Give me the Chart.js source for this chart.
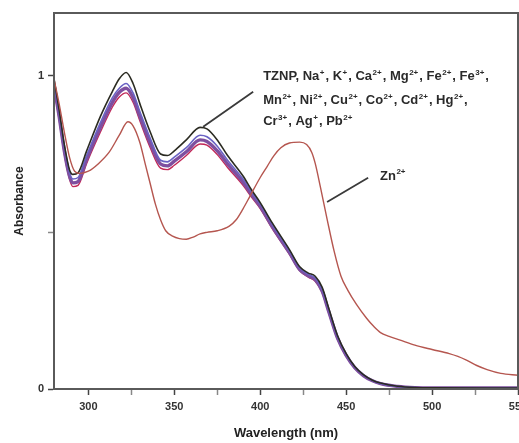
<!DOCTYPE html>
<html>
<head>
<meta charset="utf-8">
<script src="https://cdn.jsdelivr.net/npm/chart.js@4.4.1/dist/chart.umd.min.js"></script>
<style>
  html, body { margin: 0; padding: 0; background: #ffffff; }
  #wrap { width: 519px; height: 443px; }
</style>
</head>
<body>
<div id="wrap"><canvas id="c" width="519" height="443"></canvas></div>
<script>
// ---- data ----
const xTicks = [300, 325, 350, 375, 400, 425, 450, 475, 500, 525, 550];
const xLabels = [300, 350, 400, 450, 500, 550];
const yTicks = [0, 0.5, 1];
const yLabels = [0, 1];

const mainWl = [280,283,286,289,291,294,299,307,314,318,322,326,330,336,342,346,350,357,365,369,375,381,390,395,400,407,417,423,428,432,436,440,445,450,455,460,465,470,480,490,500,550];
const tznp    = [0.99,0.89,0.78,0.70,0.685,0.69,0.76,0.87,0.95,0.99,1.01,0.975,0.91,0.82,0.75,0.745,0.76,0.795,0.835,0.83,0.795,0.745,0.68,0.635,0.595,0.53,0.445,0.39,0.37,0.36,0.325,0.255,0.17,0.113,0.072,0.046,0.029,0.019,0.009,0.005,0.004,0.003];
const violet  = [0.98,0.88,0.77,0.69,0.67,0.675,0.745,0.85,0.93,0.96,0.975,0.945,0.885,0.80,0.73,0.725,0.74,0.77,0.81,0.805,0.775,0.73,0.67,0.628,0.59,0.525,0.44,0.386,0.366,0.354,0.318,0.25,0.166,0.11,0.07,0.045,0.028,0.018,0.008,0.005,0.004,0.003];
const purple  = [0.97,0.87,0.76,0.68,0.658,0.662,0.733,0.835,0.915,0.947,0.96,0.93,0.87,0.785,0.718,0.712,0.727,0.757,0.795,0.79,0.76,0.718,0.66,0.62,0.583,0.518,0.435,0.381,0.361,0.349,0.313,0.245,0.162,0.107,0.068,0.043,0.027,0.017,0.008,0.004,0.003,0.003];
const crimson = [0.96,0.86,0.75,0.67,0.646,0.65,0.72,0.82,0.90,0.932,0.945,0.915,0.855,0.77,0.705,0.70,0.714,0.745,0.782,0.778,0.748,0.707,0.65,0.612,0.576,0.512,0.43,0.377,0.357,0.344,0.308,0.24,0.158,0.104,0.066,0.042,0.026,0.016,0.008,0.005,0.004,0.004];

const znWl = [280,283,286,289,292,295,300,306,312,318,323,326,330,333,336,339,342,345,349,353,357,361,365,369,375,382,386,390,394,400,404,408,412,417,423,427,430,432,435,439,443,447,451,456,462,466,470,475,481,490,500,510,515,520,526,532,540,550];
const zn = [0.99,0.91,0.82,0.74,0.695,0.688,0.695,0.72,0.755,0.81,0.853,0.84,0.786,0.72,0.655,0.59,0.54,0.505,0.488,0.48,0.478,0.485,0.495,0.50,0.505,0.52,0.54,0.575,0.615,0.675,0.71,0.745,0.77,0.785,0.788,0.78,0.755,0.72,0.645,0.54,0.44,0.36,0.315,0.27,0.225,0.2,0.18,0.168,0.157,0.14,0.126,0.113,0.104,0.092,0.075,0.062,0.05,0.044];

const annotationLines = [
  [["TZNP, Na","+"],[", K","+"],[", Ca","2+"],[", Mg","2+"],[", Fe","2+"],[", Fe","3+"],[",",""]],
  [["Mn","2+"],[", Ni","2+"],[", Cu","2+"],[", Co","2+"],[", Cd","2+"],[", Hg","2+"],[",",""]],
  [["Cr","3+"],[", Ag","+"],[", Pb","2+"]]
];
const znLabel = [["Zn","2+"]];

function pts(xs, ys) { return xs.map((x, i) => ({ x: x, y: ys[i] })); }

function ds(label, xs, ys, color, width) {
  return {
    label: label, data: pts(xs, ys), borderColor: color, borderWidth: width,
    pointRadius: 0, fill: false, tension: 0.4, cubicInterpolationMode: 'monotone'
  };
}

function drawSegs(ctx, segs, x, y, baseFont, supFont) {
  let cx = x;
  segs.forEach(([base, sup]) => {
    ctx.font = baseFont;
    ctx.fillText(base, cx, y);
    cx += ctx.measureText(base).width;
    if (sup) {
      ctx.font = supFont;
      ctx.fillText(sup, cx + 0.5, y - 5.5);
      cx += ctx.measureText(sup).width + 1.5;
    }
  });
}

const decor = {
  id: 'decor',
  afterDraw(chart) {
    const ctx = chart.ctx, a = chart.chartArea;
    const xs = chart.scales.x, ys = chart.scales.y;
    ctx.save();
    // frame
    ctx.strokeStyle = '#5a5a5a';
    ctx.lineWidth = 2;
    ctx.strokeRect(a.left, a.top, a.right - a.left, a.bottom - a.top);
    // pointer lines
    ctx.strokeStyle = '#3a3a3a';
    ctx.lineWidth = 1.8;
    ctx.beginPath();
    ctx.moveTo(xs.getPixelForValue(366.8), ys.getPixelForValue(0.837));
    ctx.lineTo(xs.getPixelForValue(395.9), ys.getPixelForValue(0.949));
    ctx.moveTo(xs.getPixelForValue(438.9), ys.getPixelForValue(0.597));
    ctx.lineTo(xs.getPixelForValue(462.8), ys.getPixelForValue(0.674));
    ctx.stroke();
    // annotation text
    ctx.fillStyle = '#2a2a2a';
    ctx.textBaseline = 'alphabetic';
    ctx.textAlign = 'left';
    const baseFont = 'bold 13px "Liberation Sans", Arial, sans-serif';
    const supFont = 'bold 8px "Liberation Sans", Arial, sans-serif';
    const ax = xs.getPixelForValue(401.7);
    const baseYs = [0.985, 0.909, 0.842];
    annotationLines.forEach((segs, i) => {
      drawSegs(ctx, segs, ax, ys.getPixelForValue(baseYs[i]), baseFont, supFont);
    });
    drawSegs(ctx, znLabel, xs.getPixelForValue(469.7), ys.getPixelForValue(0.668), baseFont, supFont);
    ctx.restore();
  }
};

const tickFont = { family: '"Liberation Sans", Arial, sans-serif', size: 11, weight: 'bold' };

new Chart(document.getElementById('c'), {
  type: 'line',
  data: {
    datasets: [
      ds('Zn2+', znWl, zn, '#b5564f', 1.4),
      ds('TZNP', mainWl, tznp, '#2b2b22', 1.6),
      ds('violet', mainWl, violet, '#6a62c4', 1.6),
      ds('purple', mainWl, purple, '#7e4f9f', 3.4),
      ds('crimson', mainWl, crimson, '#c22858', 1.4)
    ]
  },
  options: {
    responsive: false,
    animation: false,
    devicePixelRatio: 1,
    layout: { padding: { top: 13, right: 1, left: 0, bottom: 0 } },
    plugins: { legend: { display: false }, tooltip: { enabled: false } },
    scales: {
      x: {
        type: 'linear', min: 280, max: 550,
        afterBuildTicks: s => { s.ticks = xTicks.map(v => ({ value: v })); },
        afterFit: s => { s.height = 54; s.paddingRight = 0; s.paddingLeft = 0; },
        grid: {
          drawOnChartArea: false, drawTicks: true, tickLength: 6,
          tickWidth: 1.5,
          tickColor: c => (c.tick && xLabels.includes(c.tick.value)) ? '#444' : '#888'
        },
        border: { display: true, color: '#5a5a5a', width: 2 },
        ticks: {
          autoSkip: false, maxRotation: 0, padding: 5, color: '#333', font: tickFont,
          callback: v => xLabels.includes(v) ? String(v) : ''
        },
        title: {
          display: true, text: 'Wavelength (nm)', color: '#222',
          font: { family: '"Liberation Sans", Arial, sans-serif', size: 13, weight: 'bold' },
          padding: { top: 0, bottom: 2 }
        }
      },
      y: {
        type: 'linear', min: 0, max: 1.2,
        afterBuildTicks: s => { s.ticks = yTicks.map(v => ({ value: v })); },
        afterFit: s => { s.width = 54; s.paddingTop = 0; s.paddingBottom = 0; },
        grid: {
          drawOnChartArea: false, drawTicks: true, tickLength: 6,
          tickWidth: 1.5,
          tickColor: c => (c.tick && yLabels.includes(c.tick.value)) ? '#444' : '#888'
        },
        border: { display: true, color: '#5a5a5a', width: 2 },
        ticks: {
          autoSkip: false, padding: 4, color: '#333', font: tickFont,
          callback: v => yLabels.includes(v) ? String(v) : ''
        },
        title: {
          display: true, text: 'Absorbance', color: '#222',
          font: { family: '"Liberation Sans", Arial, sans-serif', size: 12, weight: 'bold' },
          padding: { top: 12, bottom: 0 }
        }
      }
    }
  },
  plugins: [decor]
});
</script>
</body>
</html>
